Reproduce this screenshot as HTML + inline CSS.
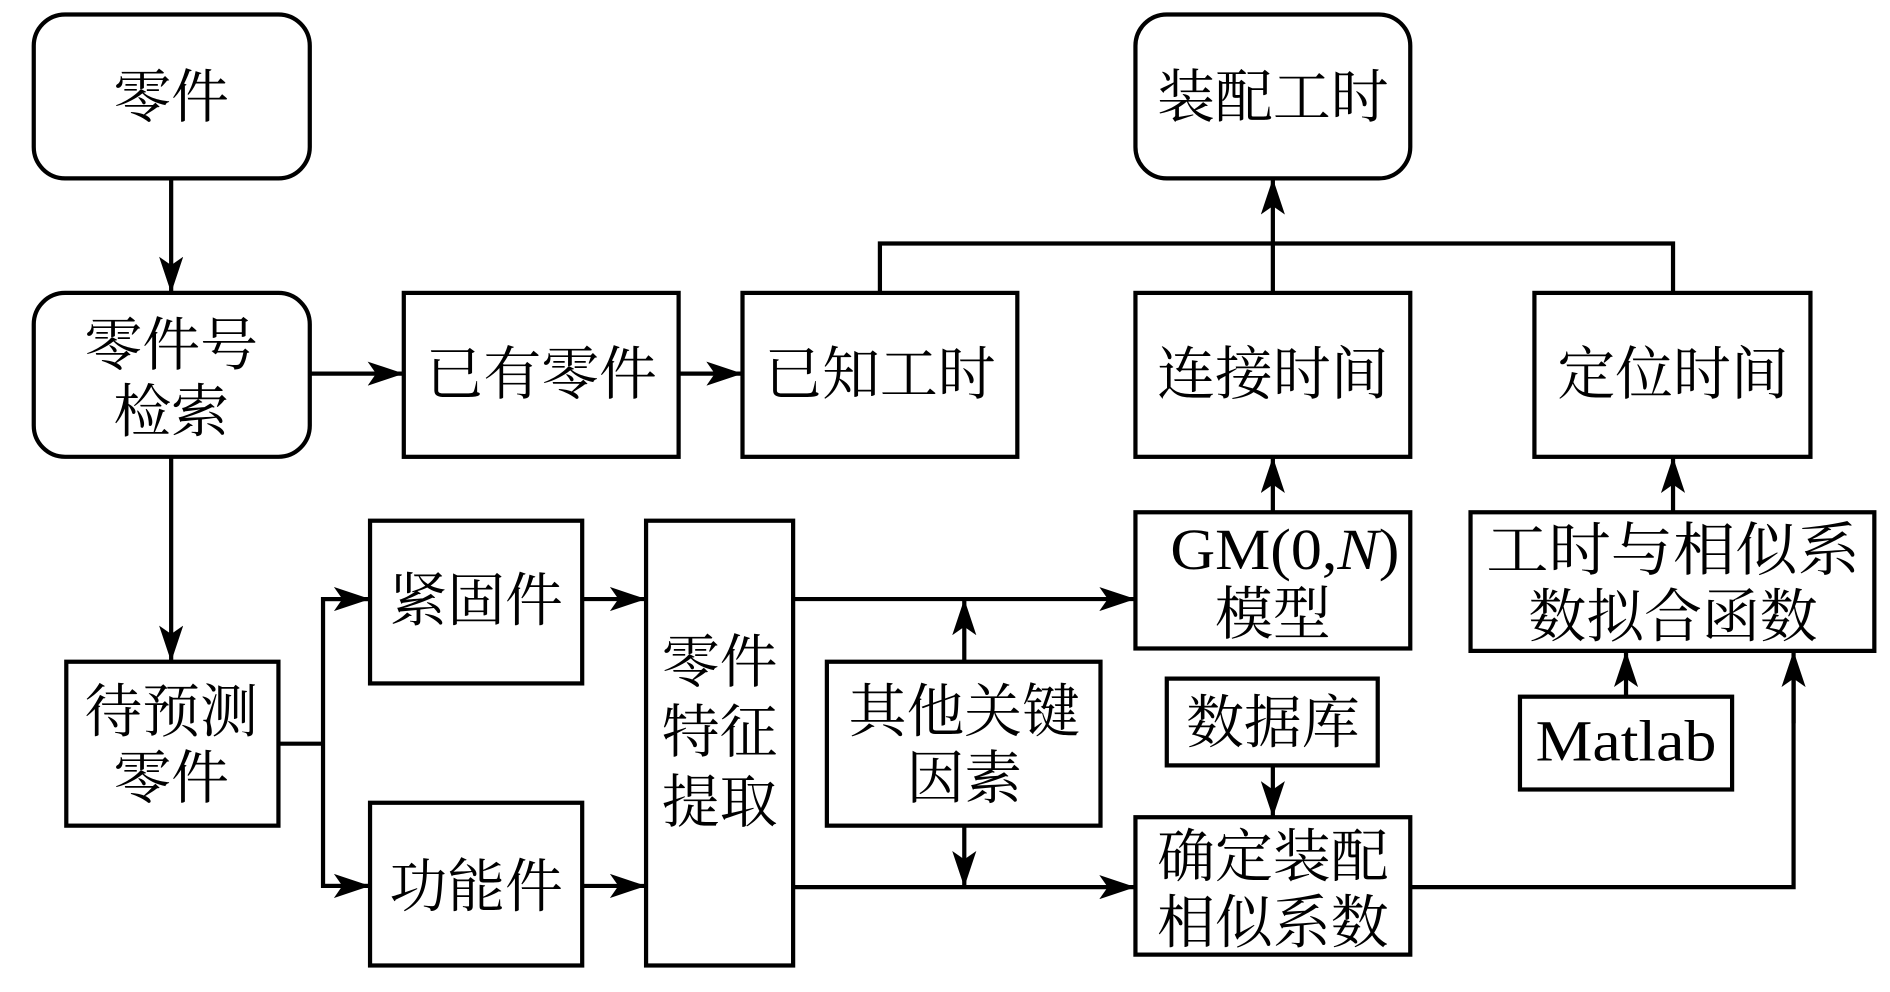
<!DOCTYPE html>
<html><head><meta charset="utf-8"><style>
html,body{margin:0;padding:0;background:#fff;}
svg{display:block;}
text{font-family:"Liberation Serif","Noto Serif CJK SC",serif;font-size:48px;fill:#000;text-anchor:middle;}
</style></head><body>
<svg width="1890" height="992" viewBox="0 0 1568 823" preserveAspectRatio="none" xmlns="http://www.w3.org/2000/svg">
<defs><marker id="a" markerWidth="10" markerHeight="10" refX="9" refY="5" orient="auto" markerUnits="userSpaceOnUse" viewBox="0 0 10 10"><path d="M0,0 L10,5 L0,10 z"/></marker>
<marker id="b" viewBox="0 0 30 20" refX="30" refY="10" markerWidth="30" markerHeight="20" orient="auto" markerUnits="userSpaceOnUse"><path d="M0,0 L30,10 L0,20 L7,10 z" fill="#000"/></marker></defs>
<g fill="none" stroke="#000" stroke-width="3.5">
<rect x="28" y="12" width="229" height="136" rx="26"/>
<rect x="28" y="243" width="229" height="136" rx="26"/>
<rect x="942" y="12" width="228" height="136" rx="26"/>
<rect x="335" y="243" width="228" height="136"/>
<rect x="616" y="243" width="228" height="136"/>
<rect x="942" y="243" width="228" height="136"/>
<rect x="1273" y="243" width="229" height="136"/>
<rect x="55" y="549" width="176" height="136"/>
<rect x="307" y="432" width="176" height="135"/>
<rect x="307" y="666" width="176" height="135"/>
<rect x="536" y="432" width="122" height="369"/>
<rect x="686" y="549" width="227" height="136"/>
<rect x="942" y="425" width="228" height="113"/>
<rect x="968" y="563" width="175" height="72"/>
<rect x="942" y="678" width="228" height="114"/>
<rect x="1220" y="425" width="335" height="115"/>
<rect x="1261" y="578" width="176" height="77"/>
</g>
<g fill="none" stroke="#000" stroke-width="3.5">
<line x1="142" y1="148" x2="142" y2="243" marker-end="url(#b)"/>
<line x1="257" y1="310" x2="335" y2="310" marker-end="url(#b)"/>
<line x1="563" y1="310" x2="616" y2="310" marker-end="url(#b)"/>
<polyline points="730,243 730,202 1388,202 1388,243"/>
<line x1="1056" y1="243" x2="1056" y2="148" marker-end="url(#b)"/>
<line x1="142" y1="379" x2="142" y2="549" marker-end="url(#b)"/>
<polyline points="231,617 268,617"/>
<polyline points="307,497 268,497 268,735 307,735"/>
<line x1="268" y1="497" x2="307" y2="497" marker-end="url(#b)"/>
<line x1="268" y1="735" x2="307" y2="735" marker-end="url(#b)"/>
<line x1="483" y1="497" x2="536" y2="497" marker-end="url(#b)"/>
<line x1="483" y1="735" x2="536" y2="735" marker-end="url(#b)"/>
<line x1="658" y1="497" x2="942" y2="497" marker-end="url(#b)"/>
<line x1="658" y1="736" x2="942" y2="736" marker-end="url(#b)"/>
<line x1="800" y1="549" x2="800" y2="497" marker-end="url(#b)"/>
<line x1="800" y1="685" x2="800" y2="736" marker-end="url(#b)"/>
<line x1="1056" y1="635" x2="1056" y2="678" marker-end="url(#b)"/>
<line x1="1056" y1="425" x2="1056" y2="379" marker-end="url(#b)"/>
<line x1="1388" y1="425" x2="1388" y2="379" marker-end="url(#b)"/>
<line x1="1349" y1="578" x2="1349" y2="540" marker-end="url(#b)"/>
<polyline points="1170,736 1488,736 1488,560"/>
<line x1="1488" y1="600" x2="1488" y2="540" marker-end="url(#b)"/>
</g>
<text x="142" y="97">零件</text>
<text x="142" y="303">零件号</text>
<text x="142" y="358">检索</text>
<text x="449" y="327">已有零件</text>
<text x="730" y="327">已知工时</text>
<text x="1056" y="97">装配工时</text>
<text x="1056" y="327">连接时间</text>
<text x="1388" y="327">定位时间</text>
<text x="142" y="607">待预测</text>
<text x="142" y="662">零件</text>
<text x="395" y="515">紧固件</text>
<text x="395" y="752">功能件</text>
<text x="597" y="566">零件</text>
<text x="597" y="624">特征</text>
<text x="597" y="682">提取</text>
<text x="800" y="607">其他关键</text>
<text x="800" y="662">因素</text>
<text x="1066" y="472" textLength="190" lengthAdjust="spacingAndGlyphs">GM(0,<tspan font-style="italic">N</tspan>)</text>
<text x="1056" y="526">模型</text>
<text x="1056" y="616">数据库</text>
<text x="1056" y="727">确定装配</text>
<text x="1056" y="782">相似系数</text>
<text x="1388" y="473" textLength="310" lengthAdjust="spacingAndGlyphs">工时与相似系</text>
<text x="1388" y="528">数拟合函数</text>
<text x="1349" y="631" textLength="150" lengthAdjust="spacingAndGlyphs">Matlab</text>
</svg>
</body></html>
